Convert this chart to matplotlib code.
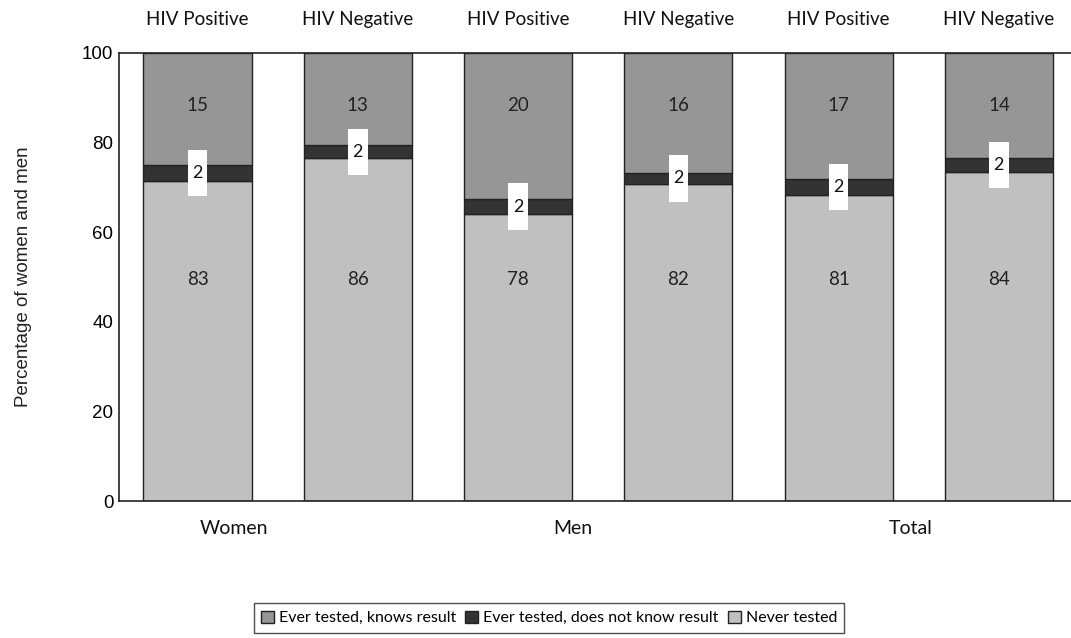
import matplotlib
matplotlib.use("Agg")
import matplotlib.pyplot as plt
import numpy as np

# bar segment heights as drawn (percent axis)
never_tested = [71.4, 76.4, 64.0, 70.7, 68.2, 73.4]
not_know = [3.6, 2.9, 3.3, 2.5, 3.7, 3.1]
knows = [25.0, 20.7, 32.7, 26.8, 28.1, 23.5]

# printed value labels
never_lbl = ["83", "86", "78", "82", "81", "84"]
not_know_lbl = ["2", "2", "2", "2", "2", "2"]
knows_lbl = ["15", "13", "20", "16", "17", "14"]

status = ["HIV Positive", "HIV Negative"] * 3
groups = ["Women", "Men", "Total"]
group_pos = [0.23, 2.34, 4.45]

series = ["Ever tested, knows result", "Ever tested, does not know result", "Never tested"]
colors = ["#969696", "#333333", "#c0c0c0"]

txt_font = "Lato"
num_font = "Liberation Sans"

fig = plt.figure(figsize=(10.71, 6.38), dpi=100)
ax = fig.add_axes([119 / 1071, 1 - 501 / 638, 1 - 119 / 1071, (501 - 52.7) / 638])

x = np.arange(len(never_tested))
w = 0.675
b1 = ax.bar(x, never_tested, w, color=colors[2], edgecolor="#222222", linewidth=1, label=series[2])
b2 = ax.bar(x, not_know, w, bottom=never_tested, color=colors[1], edgecolor="#222222", linewidth=1,
            label=series[1])
base = np.array(never_tested) + np.array(not_know)
b3 = ax.bar(x, knows, w, bottom=base, color=colors[0], edgecolor="#222222", linewidth=1, label=series[0])

for i in range(len(x)):
    ax.text(x[i], 49.5, never_lbl[i], ha="center", va="center", fontsize=13.5,
            family=txt_font, color="#222222")
    ax.text(x[i], 88.3, knows_lbl[i], ha="center", va="center", fontsize=13.5,
            family=txt_font, color="#222222")
    ax.text(x[i], never_tested[i] + not_know[i] / 2, " \n" + not_know_lbl[i] + "\n ",
            ha="center", va="center", fontsize=13, family=txt_font, color="#111111",
            linespacing=0.6,
            bbox=dict(boxstyle="square,pad=0.25", facecolor="white", edgecolor="none"))
    ax.annotate(status[i], xy=(x[i], 1), xycoords=("data", "axes fraction"),
                xytext=(0, 24), textcoords="offset points", ha="center", va="center",
                fontsize=13.5, family=txt_font, color="#111111")

for gx, g in zip(group_pos, groups):
    ax.annotate(g, xy=(gx, 0), xycoords=("data", "axes fraction"),
                xytext=(0, -20), textcoords="offset points", ha="center", va="center",
                fontsize=14, family=txt_font, color="#111111")

ax.set_xlim(-0.49, 5.45)
ax.set_ylim(0, 100)
ax.set_yticks([0, 20, 40, 60, 80, 100])
ax.set_xticks([])
ax.tick_params(axis="y", length=0, pad=4, labelsize=13.5)
for lab in ax.get_yticklabels():
    lab.set_family(num_font)
ax.set_ylabel("Percentage of women and men", family=num_font, fontsize=13.5,
              color="#222222")
ax.yaxis.set_label_coords(-87 / 952, 0.5)
for s in ["left", "top", "bottom"]:
    ax.spines[s].set_linewidth(1.2)
    ax.spines[s].set_color("#222222")
ax.spines["right"].set_visible(False)

leg = fig.legend(handles=[b3, b2, b1], labels=series, loc="center", ncol=3,
                 bbox_to_anchor=(549 / 1071, 1 - 618 / 638), frameon=True, fancybox=False,
                 handlelength=0.8, handleheight=0.8, handletextpad=0.3, columnspacing=0.6,
                 borderpad=0.45, prop={"family": txt_font, "size": 11.5})
leg.get_frame().set_edgecolor("#222222")
leg.get_frame().set_linewidth(1)

fig.savefig("out.png", dpi=100)
